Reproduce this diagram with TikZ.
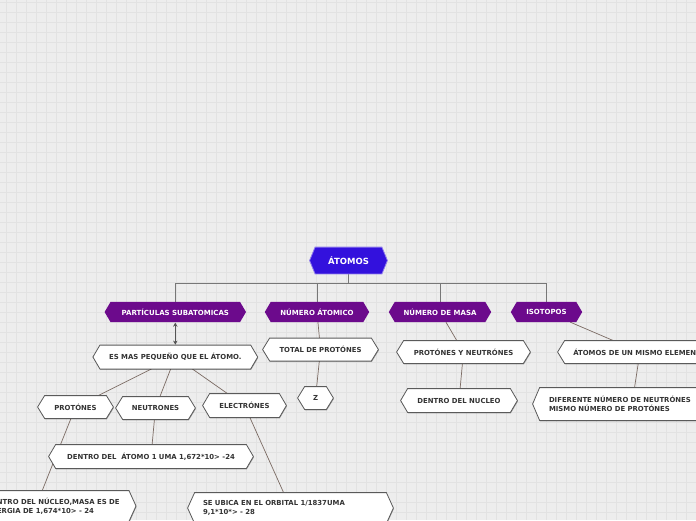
\documentclass[tikz,border=0pt]{standalone}
\usepackage{fontspec}
\setmainfont{DejaVu Sans}
\usetikzlibrary{arrows.meta,shadows,calc}
\definecolor{bgc}{HTML}{EDEDED}
\definecolor{gridc}{HTML}{E2E2E2}
\definecolor{rootc}{HTML}{3311DD}
\definecolor{purp}{HTML}{6C0A8C}
\definecolor{txtc}{HTML}{333333}
\definecolor{bord}{HTML}{5A5A5A}
\definecolor{treec}{HTML}{777777}
\definecolor{linkc}{HTML}{7A6A62}
\definecolor{arrc}{HTML}{555555}
\makeatletter
\newdimen\hx@inset
\pgfkeys{/pgf/hex inset/.initial=7pt}
\pgfdeclareshape{hexbox}{
  \inheritsavedanchors[from=rectangle]
  \inheritanchorborder[from=rectangle]
  \inheritanchor[from=rectangle]{center}
  \inheritanchor[from=rectangle]{north}
  \inheritanchor[from=rectangle]{south}
  \inheritanchor[from=rectangle]{east}
  \inheritanchor[from=rectangle]{west}
  \inheritanchor[from=rectangle]{north east}
  \inheritanchor[from=rectangle]{north west}
  \inheritanchor[from=rectangle]{south east}
  \inheritanchor[from=rectangle]{south west}
  \inheritanchor[from=rectangle]{base}
  \inheritanchor[from=rectangle]{mid}
  \backgroundpath{%
    \pgfmathsetlength\hx@inset{\pgfkeysvalueof{/pgf/hex inset}}%
    \southwest \edef\hx@xa{\the\pgf@x}\edef\hx@ya{\the\pgf@y}%
    \northeast \edef\hx@xb{\the\pgf@x}\edef\hx@yb{\the\pgf@y}%
    \pgf@xc=\hx@xb\relax \advance\pgf@xc by \hx@inset \edef\hx@xc{\the\pgf@xc}%
    \pgf@xc=\hx@xa\relax \advance\pgf@xc by -\hx@inset \edef\hx@xd{\the\pgf@xc}%
    \pgf@yc=\hx@ya\relax \advance\pgf@yc by \hx@yb\relax \divide\pgf@yc by 2 \edef\hx@yc{\the\pgf@yc}%
    \pgfpathmoveto{\pgfqpoint{\hx@xa}{\hx@ya}}%
    \pgfpathlineto{\pgfqpoint{\hx@xb}{\hx@ya}}%
    \pgfpathlineto{\pgfqpoint{\hx@xc}{\hx@yc}}%
    \pgfpathlineto{\pgfqpoint{\hx@xb}{\hx@yb}}%
    \pgfpathlineto{\pgfqpoint{\hx@xa}{\hx@yb}}%
    \pgfpathlineto{\pgfqpoint{\hx@xd}{\hx@yc}}%
    \pgfpathclose
  }
}
\makeatother
\pgfdeclarelayer{gridlayer}
\pgfdeclarelayer{edgelayer}
\pgfsetlayers{gridlayer,edgelayer,main}
\tikzset{
  hexbase/.style={shape=hexbox, inner xsep=2pt, inner ysep=0pt},
  rootbox/.style={hexbase, /pgf/hex inset=5.5pt, fill=rootc, draw=rootc!55!white, line width=0.8pt,
    text=white, font=\bfseries\fontsize{8.5}{10}\selectfont},
  catbox/.style={hexbase, /pgf/hex inset=6pt, fill=purp, draw=none, text=white,
    font=\bfseries\fontsize{7}{9}\selectfont, minimum height=20pt},
  leafbox/.style={hexbase, /pgf/hex inset=7pt, fill=white, draw=bord, line width=0.8pt, text=txtc,
    font=\bfseries\fontsize{6.9}{9.4}\selectfont,
    drop shadow={shadow xshift=0.4pt, shadow yshift=-1pt, opacity=0.35, fill=black}},
  tree/.style={draw=treec, line width=0.8pt},
  link/.style={draw=linkc, line width=0.7pt},
  dbl/.style={draw=arrc, line width=0.9pt, {Stealth[length=4pt,width=4.5pt]}-{Stealth[length=4pt,width=4.5pt]}},
}
\begin{document}
\begin{tikzpicture}[x=1pt,y=-1pt]
\useasboundingbox (0,0) rectangle (696,520);
\begin{pgfonlayer}{gridlayer}
  \fill[bgc] (0,0) rectangle (696,520);
  \foreach \i in {6,16,...,696} \draw[gridc, line width=0.8pt] (\i,0) -- (\i,520);
  \foreach \j in {2,12,...,520} \draw[gridc, line width=0.8pt] (0,\j) -- (696,\j);
\end{pgfonlayer}

% root and categories
\node[rootbox, minimum width=66pt, minimum height=26pt] (atomos) at (348.5,260.5) {ÁTOMOS};
\node[catbox, minimum width=129pt] (ps) at (175.3,312) {PARTÍCULAS SUBATOMICAS};
\node[catbox, minimum width=92pt] (na) at (317,312) {NÚMERO ÁTOMICO};
\node[catbox, minimum width=90pt] (nm) at (440,312) {NÚMERO DE MASA};
\node[catbox, minimum width=59pt] (is) at (546.5,312) {ISOTOPOS};

% leaves
\node[leafbox, minimum width=150pt, minimum height=23pt] (es) at (175.3,357) {ES MAS PEQUEÑO QUE EL ÁTOMO.};
\node[leafbox, minimum width=101pt, minimum height=22pt] (tp) at (320.5,349.5) {TOTAL DE PROTÓNES};
\node[leafbox, minimum width=119pt, minimum height=22pt] (pyn) at (463.5,352) {PROTÓNES Y NEUTRÓNES};
\node[leafbox, minimum width=150pt, minimum height=22pt] (amme) at (640,352) {ÁTOMOS DE UN MISMO ELEMENTO};
\node[leafbox, minimum width=21pt, minimum height=22pt] (z) at (315.5,398) {Z};
\node[leafbox, minimum width=102pt, minimum height=23pt] (dn) at (459,400.5) {DENTRO DEL NUCLEO};
\node[leafbox, minimum height=32pt, inner xsep=9pt, text width=166pt, align=left] (dif) at (632,404)
  {DIFERENTE NÚMERO DE NEUTRÓNES\\MISMO NÚMERO DE PROTÓNES};
\node[leafbox, minimum width=61pt, minimum height=22pt] (pr) at (75.5,407) {PROTÓNES};
\node[leafbox, minimum width=65pt, minimum height=22pt] (ne) at (155.5,408) {NEUTRONES};
\node[leafbox, minimum width=69pt, minimum height=23pt] (el) at (244.5,405.5) {ELECTRÓNES};
\node[leafbox, minimum width=190pt, minimum height=23pt] (da) at (151,456.5) {DENTRO DEL\ \ ÁTOMO 1 UMA 1,672*10> -24};
\node[leafbox, minimum height=30pt, inner xsep=9pt, align=left, anchor=east] (nuc) at (129,506)
  {DENTRO DEL NÚCLEO,MASA ES DE\\ENERGIA DE 1,674*10> - 24};
\node[leafbox, minimum height=30pt, inner xsep=8pt, text width=175pt, align=left] (seu) at (290.5,508)
  {SE UBICA EN EL ORBITAL 1/1837UMA\\9,1*10*> - 28};

\begin{pgfonlayer}{edgelayer}
  \coordinate (bar) at (348.5,283);
  \draw[tree] (atomos.south) -- (bar);
  \draw[tree] (ps.north) -- (ps.north |- bar) -- (is.north |- bar) -- (is.north);
  \draw[tree] (na.north) -- (na.north |- bar);
  \draw[tree] (nm.north) -- (nm.north |- bar);
  \draw[link] (na) -- (tp);
  \draw[link] (tp) -- (z);
  \draw[link] (nm) -- (pyn);
  \draw[link] (pyn) -- (dn);
  \draw[link] (is) -- (amme);
  \draw[link] (amme) -- (dif);
  \draw[link] (es) -- (pr);
  \draw[link] (es) -- (ne);
  \draw[link] (es) -- (el);
  \draw[link] (ne) -- (da);
  \draw[link] (pr) -- ([xshift=-17pt]nuc.center);
  \draw[link] (el) -- (seu);
\end{pgfonlayer}
\draw[dbl] ([yshift=-0.5pt]ps.south) -- ([yshift=0.5pt]ps.south |- es.north);
\end{tikzpicture}
\end{document}
